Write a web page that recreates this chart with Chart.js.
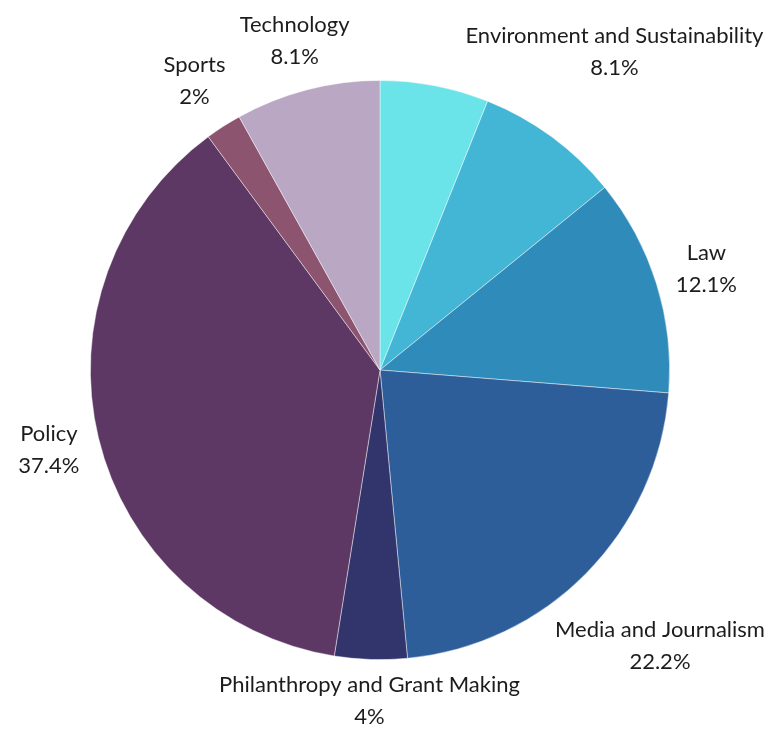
<!DOCTYPE html>
<html>
<head>
<meta charset="utf-8">
<title>Sector breakdown</title>
<script src="https://cdn.jsdelivr.net/npm/chart.js@4.4.1/dist/chart.umd.min.js"></script>
<style>
    html, body { margin: 0; padding: 0; background: #ffffff; }
    #wrap { position: relative; width: 777px; height: 731px; }
</style>
</head>
<body>
<div id="wrap"><canvas id="sectorChart"></canvas></div>
<script>
// Slice data, clockwise from 12 o'clock. The first slice carries no label.
const categories = [
    '',
    'Environment and Sustainability',
    'Law',
    'Media and Journalism',
    'Philanthropy and Grant Making',
    'Policy',
    'Sports',
    'Technology',
];
const counts = [6, 8, 12, 22, 4, 37, 2, 8];
const sliceColors = [
    '#6ae4e8',
    '#43b6d6',
    '#2e8bba',
    '#2e5e99',
    '#31356b',
    '#5e3865',
    '#8c546f',
    '#b9a7c4',
];

const LABEL_FONT = '22px Lato, "Open Sans", sans-serif';
const LABEL_COLOR = '#1c1c1c';
const LINE_GAP = 32;      // distance between the two label lines
const BOX_HEIGHT = 50;    // visual height of a two-line label
const LABEL_GAP = 16;     // clearance between pie edge and nearest label corner
const EDGE = 7;           // keep labels this far inside the canvas

const formatPercent = (value, total) =>
    parseFloat((value / total * 100).toFixed(1)) + '%';

// Name + percentage drawn outside each slice, centred on its mid-angle
const outsideLabels = {
    id: 'outsideLabels',

    afterDatasetsDraw(chart) {
        const { ctx, width } = chart;
        const meta = chart.getDatasetMeta(0);
        const total = counts.reduce((a, b) => a + b, 0);

        ctx.save();
        ctx.font = LABEL_FONT;
        ctx.fillStyle = LABEL_COLOR;
        ctx.textAlign = 'center';
        ctx.textBaseline = 'middle';

        meta.data.forEach((arc, i) => {
            if (!categories[i]) {
                return;
            }

            const { x: cx, y: cy, startAngle, endAngle, outerRadius } =
                arc.getProps(['x', 'y', 'startAngle', 'endAngle', 'outerRadius'], true);
            const mid = (startAngle + endAngle) / 2;
            const ux = Math.cos(mid);
            const uy = Math.sin(mid);

            const lines = [categories[i], formatPercent(counts[i], total)];
            const w = Math.max(...lines.map((t) => ctx.measureText(t).width));
            const h = BOX_HEIGHT;
            const clearance = outerRadius + LABEL_GAP;

            const nearest = (bx, by) => {
                const px = Math.max(bx - w / 2, Math.min(cx, bx + w / 2));
                const py = Math.max(by - h / 2, Math.min(cy, by + h / 2));
                return Math.hypot(px - cx, py - cy);
            };

            // slide outward along the mid-angle until the box clears the pie
            let lo = 0;
            let hi = 1000;
            for (let k = 0; k < 40; k++) {
                const t = (lo + hi) / 2;
                if (nearest(cx + ux * t, cy + uy * t) < clearance) lo = t;
                else hi = t;
            }
            let bx = cx + ux * hi;
            let by = cy + uy * hi;

            // keep it on the canvas; if that pulls it over the pie, push it up/down
            const clampedX = Math.min(Math.max(bx, EDGE + w / 2), width - EDGE - w / 2);
            if (clampedX !== bx) {
                bx = clampedX;
                const dir = uy >= 0 ? 1 : -1;
                const startY = by;
                lo = 0;
                hi = 1000;
                if (nearest(bx, startY) < clearance) {
                    for (let k = 0; k < 40; k++) {
                        const s = (lo + hi) / 2;
                        if (nearest(bx, startY + dir * s) < clearance) lo = s;
                        else hi = s;
                    }
                    by = startY + dir * hi;
                }
            }

            ctx.fillText(lines[0], bx, by - LINE_GAP / 2);
            ctx.fillText(lines[1], bx, by + LINE_GAP / 2);
        });

        ctx.restore();
    },
};

new Chart(document.getElementById('sectorChart'), {
    type: 'pie',

    data: {
        labels: categories,

        datasets: [
            {
                data: counts,
                backgroundColor: sliceColors,
                borderColor: 'rgba(255, 255, 255, 0.55)',
                borderWidth: 0.8,
            },
        ],
    },

    options: {
        responsive: true,
        maintainAspectRatio: false,
        animation: false,

        layout: {
            padding: { left: 90, right: 107, top: 80, bottom: 71 },
        },

        plugins: {
            legend: { display: false },
            tooltip: { enabled: false },
        },
    },

    plugins: [outsideLabels],
});
</script>
</body>
</html>
